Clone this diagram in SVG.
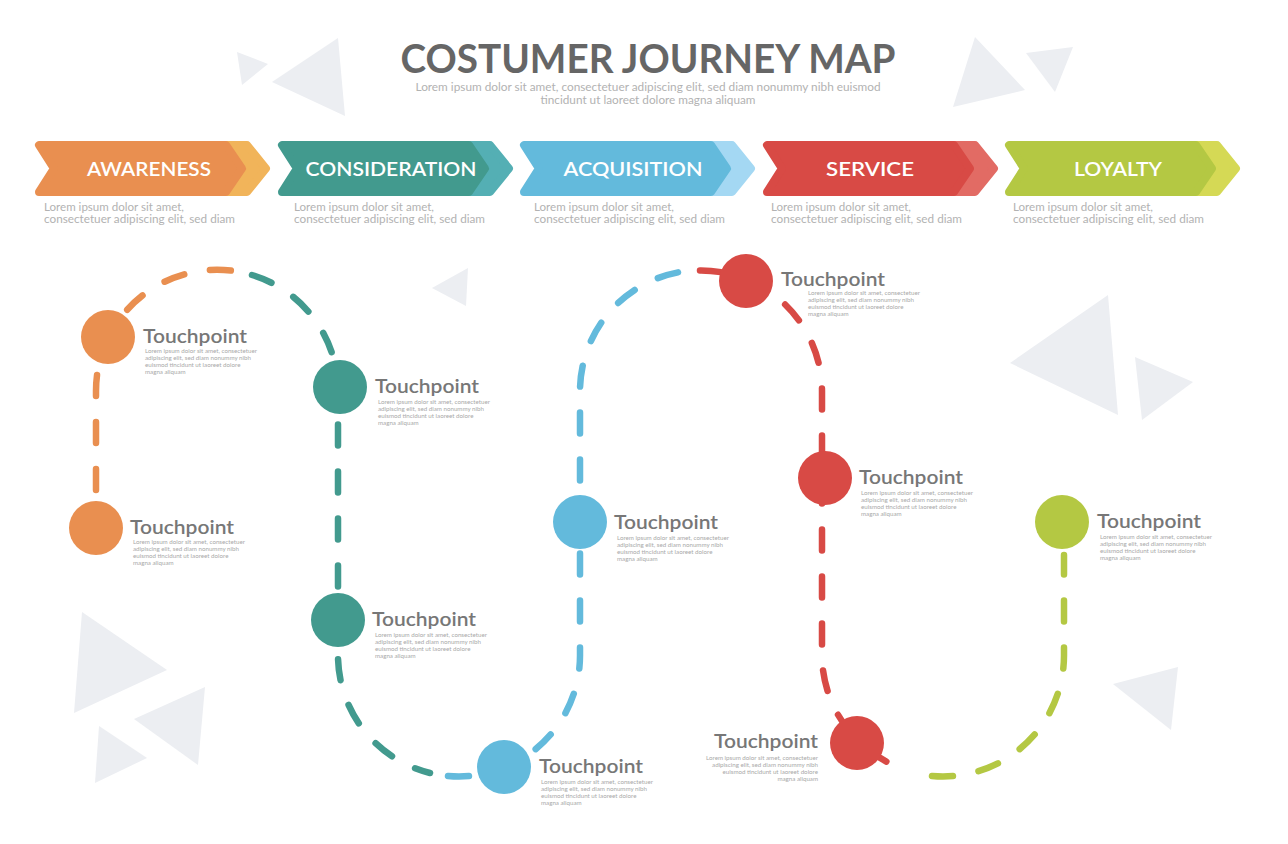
<svg xmlns="http://www.w3.org/2000/svg" width="1288" height="844" viewBox="0 0 1288 844">
<style>
.tri{fill:#ECEEF2}
.title{font-family:Lato,"Open Sans","Liberation Sans",sans-serif;font-weight:700;font-size:40px;fill:#666666}
.sub{font-family:Lato,"Liberation Sans",sans-serif;font-size:11px;fill:#B2B2B2}
.bl{font-family:Lato,"Liberation Sans",sans-serif;font-weight:600;font-size:20px;fill:#FFFFFF}
.bd{font-family:Lato,"Liberation Sans",sans-serif;font-size:11px;fill:#B2B2B2}
.th{font-family:Lato,"Liberation Sans",sans-serif;font-weight:600;font-size:19px;fill:#777777}
.td{font-family:Lato,"Liberation Sans",sans-serif;font-size:6.2px;fill:#A8A8A8}
.sh{stroke-linejoin:round;stroke-width:8}
.dash{fill:none;stroke-width:6.5;stroke-linecap:round;stroke-dasharray:21 26}
</style>
<rect width="1288" height="844" fill="#FFFFFF"/>
<g id="background">
<polygon class="tri" points="237,52 268,64 242,85"/>
<polygon class="tri" points="272,82 338,38 345,116"/>
<polygon class="tri" points="975,37 1025,90 953,107"/>
<polygon class="tri" points="1026,53 1073,47 1055,92"/>
<polygon class="tri" points="1108,295 1118,415 1010,363"/>
<polygon class="tri" points="1135,357 1193,382 1142,420"/>
<polygon class="tri" points="82,612 167,670 74,713"/>
<polygon class="tri" points="205,687 198,765 134,719"/>
<polygon class="tri" points="99,726 147,758 95,783"/>
<polygon class="tri" points="468,268 432,288 466,306"/>
<polygon class="tri" points="1178,667 1113,684 1171,730"/>
</g>
<g id="header">
<text class="title" x="648" y="73" text-anchor="middle" textLength="495" lengthAdjust="spacingAndGlyphs">COSTUMER JOURNEY MAP</text>
<text class="sub" x="648" y="91" text-anchor="middle" textLength="465" lengthAdjust="spacingAndGlyphs">Lorem ipsum dolor sit amet, consectetuer adipiscing elit, sed diam nonummy nibh euismod</text>
<text class="sub" x="648" y="104" text-anchor="middle" textLength="215" lengthAdjust="spacingAndGlyphs">tincidunt ut laoreet dolore magna aliquam</text>
</g>
<g id="stage-awareness">
<polygon class="sh" fill="#F1B45A" stroke="#F1B45A" points="204,145 247,145 266,168.5 247,192 204,192"/>
<polygon class="sh" fill="#E98F50" stroke="#E98F50" points="39,145 226,145 242,168.5 226,192 39,192 54,168.5"/>
<text class="bl" x="149" y="176" text-anchor="middle" textLength="124" lengthAdjust="spacingAndGlyphs">AWARENESS</text>
<text class="bd" x="44" y="211" textLength="140" lengthAdjust="spacingAndGlyphs">Lorem ipsum dolor sit amet,</text>
<text class="bd" x="44" y="223" textLength="191" lengthAdjust="spacingAndGlyphs">consectetuer adipiscing elit, sed diam</text>
</g>
<g id="stage-consideration">
<polygon class="sh" fill="#54AFB4" stroke="#54AFB4" points="447,145 490,145 509,168.5 490,192 447,192"/>
<polygon class="sh" fill="#429A8E" stroke="#429A8E" points="282,145 469,145 485,168.5 469,192 282,192 297,168.5"/>
<text class="bl" x="391" y="176" text-anchor="middle" textLength="171" lengthAdjust="spacingAndGlyphs">CONSIDERATION</text>
<text class="bd" x="294" y="211" textLength="140" lengthAdjust="spacingAndGlyphs">Lorem ipsum dolor sit amet,</text>
<text class="bd" x="294" y="223" textLength="191" lengthAdjust="spacingAndGlyphs">consectetuer adipiscing elit, sed diam</text>
</g>
<g id="stage-acquisition">
<polygon class="sh" fill="#A4D8F3" stroke="#A4D8F3" points="689,145 732,145 751,168.5 732,192 689,192"/>
<polygon class="sh" fill="#63BADC" stroke="#63BADC" points="524,145 711,145 727,168.5 711,192 524,192 539,168.5"/>
<text class="bl" x="633" y="176" text-anchor="middle" textLength="139" lengthAdjust="spacingAndGlyphs">ACQUISITION</text>
<text class="bd" x="534" y="211" textLength="140" lengthAdjust="spacingAndGlyphs">Lorem ipsum dolor sit amet,</text>
<text class="bd" x="534" y="223" textLength="191" lengthAdjust="spacingAndGlyphs">consectetuer adipiscing elit, sed diam</text>
</g>
<g id="stage-service">
<polygon class="sh" fill="#E26B64" stroke="#E26B64" points="932,145 975,145 994,168.5 975,192 932,192"/>
<polygon class="sh" fill="#D84A45" stroke="#D84A45" points="767,145 954,145 970,168.5 954,192 767,192 782,168.5"/>
<text class="bl" x="870" y="176" text-anchor="middle" textLength="88" lengthAdjust="spacingAndGlyphs">SERVICE</text>
<text class="bd" x="771" y="211" textLength="140" lengthAdjust="spacingAndGlyphs">Lorem ipsum dolor sit amet,</text>
<text class="bd" x="771" y="223" textLength="191" lengthAdjust="spacingAndGlyphs">consectetuer adipiscing elit, sed diam</text>
</g>
<g id="stage-loyalty">
<polygon class="sh" fill="#D5D955" stroke="#D5D955" points="1174,145 1217,145 1236,168.5 1217,192 1174,192"/>
<polygon class="sh" fill="#B4C843" stroke="#B4C843" points="1009,145 1196,145 1212,168.5 1196,192 1009,192 1024,168.5"/>
<text class="bl" x="1118" y="176" text-anchor="middle" textLength="88" lengthAdjust="spacingAndGlyphs">LOYALTY</text>
<text class="bd" x="1013" y="211" textLength="140" lengthAdjust="spacingAndGlyphs">Lorem ipsum dolor sit amet,</text>
<text class="bd" x="1013" y="223" textLength="191" lengthAdjust="spacingAndGlyphs">consectetuer adipiscing elit, sed diam</text>
</g>
<g id="connectors">
<path class="dash" stroke="#E98F50" d="M96 490 L96 391 A121 121 0 0 1 240 272"/>
<path class="dash" stroke="#429A8E" d="M252 275 A121 121 0 0 1 338 391 L338 655 A121 121 0 0 0 430 773"/>
<path class="dash" stroke="#63BADC" d="M448 776 A121 121 0 0 0 580 655 L580 391 A121 121 0 0 1 680 272"/>
<path class="dash" stroke="#D84A45" d="M700 270.5 A121 121 0 0 1 822 391 L822 655 A121 121 0 0 0 910 771"/>
<path class="dash" stroke="#B4C843" d="M932 776 A121 121 0 0 0 1064 655 L1064 555"/>
</g>
<g id="touchpoint-1">
<circle cx="108" cy="337" r="27" fill="#E98F50"/>
<text class="th" x="143" y="343" textLength="104" lengthAdjust="spacingAndGlyphs">Touchpoint</text>
<text class="td" x="145" y="353">Lorem ipsum dolor sit amet, consectetuer</text>
<text class="td" x="145" y="360">adipiscing elit, sed diam nonummy nibh</text>
<text class="td" x="145" y="367">euismod tincidunt ut laoreet dolore</text>
<text class="td" x="145" y="374">magna aliquam</text>
</g>
<g id="touchpoint-2">
<circle cx="96" cy="528" r="27" fill="#E98F50"/>
<text class="th" x="130" y="534" textLength="104" lengthAdjust="spacingAndGlyphs">Touchpoint</text>
<text class="td" x="133" y="544">Lorem ipsum dolor sit amet, consectetuer</text>
<text class="td" x="133" y="551">adipiscing elit, sed diam nonummy nibh</text>
<text class="td" x="133" y="558">euismod tincidunt ut laoreet dolore</text>
<text class="td" x="133" y="565">magna aliquam</text>
</g>
<g id="touchpoint-3">
<circle cx="340" cy="387" r="27" fill="#429A8E"/>
<text class="th" x="375" y="393" textLength="104" lengthAdjust="spacingAndGlyphs">Touchpoint</text>
<text class="td" x="378" y="404">Lorem ipsum dolor sit amet, consectetuer</text>
<text class="td" x="378" y="411">adipiscing elit, sed diam nonummy nibh</text>
<text class="td" x="378" y="418">euismod tincidunt ut laoreet dolore</text>
<text class="td" x="378" y="425">magna aliquam</text>
</g>
<g id="touchpoint-4">
<circle cx="338" cy="620" r="27" fill="#429A8E"/>
<text class="th" x="372" y="626" textLength="104" lengthAdjust="spacingAndGlyphs">Touchpoint</text>
<text class="td" x="375" y="637">Lorem ipsum dolor sit amet, consectetuer</text>
<text class="td" x="375" y="644">adipiscing elit, sed diam nonummy nibh</text>
<text class="td" x="375" y="651">euismod tincidunt ut laoreet dolore</text>
<text class="td" x="375" y="658">magna aliquam</text>
</g>
<g id="touchpoint-5">
<circle cx="504" cy="767" r="27" fill="#63BADC"/>
<text class="th" x="539" y="773" textLength="104" lengthAdjust="spacingAndGlyphs">Touchpoint</text>
<text class="td" x="541" y="784">Lorem ipsum dolor sit amet, consectetuer</text>
<text class="td" x="541" y="791">adipiscing elit, sed diam nonummy nibh</text>
<text class="td" x="541" y="798">euismod tincidunt ut laoreet dolore</text>
<text class="td" x="541" y="805">magna aliquam</text>
</g>
<g id="touchpoint-6">
<circle cx="580" cy="522" r="27" fill="#63BADC"/>
<text class="th" x="614" y="529" textLength="104" lengthAdjust="spacingAndGlyphs">Touchpoint</text>
<text class="td" x="617" y="540">Lorem ipsum dolor sit amet, consectetuer</text>
<text class="td" x="617" y="547">adipiscing elit, sed diam nonummy nibh</text>
<text class="td" x="617" y="554">euismod tincidunt ut laoreet dolore</text>
<text class="td" x="617" y="561">magna aliquam</text>
</g>
<g id="touchpoint-7">
<circle cx="746" cy="281" r="27" fill="#D84A45"/>
<text class="th" x="781" y="286" textLength="104" lengthAdjust="spacingAndGlyphs">Touchpoint</text>
<text class="td" x="808" y="295">Lorem ipsum dolor sit amet, consectetuer</text>
<text class="td" x="808" y="302">adipiscing elit, sed diam nonummy nibh</text>
<text class="td" x="808" y="309">euismod tincidunt ut laoreet dolore</text>
<text class="td" x="808" y="316">magna aliquam</text>
</g>
<g id="touchpoint-8">
<circle cx="825" cy="478" r="27" fill="#D84A45"/>
<text class="th" x="859" y="484" textLength="104" lengthAdjust="spacingAndGlyphs">Touchpoint</text>
<text class="td" x="861" y="495">Lorem ipsum dolor sit amet, consectetuer</text>
<text class="td" x="861" y="502">adipiscing elit, sed diam nonummy nibh</text>
<text class="td" x="861" y="509">euismod tincidunt ut laoreet dolore</text>
<text class="td" x="861" y="516">magna aliquam</text>
</g>
<g id="touchpoint-9">
<circle cx="857" cy="743" r="27" fill="#D84A45"/>
<text class="th" x="818" y="748" text-anchor="end" textLength="104" lengthAdjust="spacingAndGlyphs">Touchpoint</text>
<text class="td" x="818" y="760" text-anchor="end">Lorem ipsum dolor sit amet, consectetuer</text>
<text class="td" x="818" y="767" text-anchor="end">adipiscing elit, sed diam nonummy nibh</text>
<text class="td" x="818" y="774" text-anchor="end">euismod tincidunt ut laoreet dolore</text>
<text class="td" x="818" y="781" text-anchor="end">magna aliquam</text>
</g>
<g id="touchpoint-10">
<circle cx="1062" cy="522" r="27" fill="#B4C843"/>
<text class="th" x="1097" y="528" textLength="104" lengthAdjust="spacingAndGlyphs">Touchpoint</text>
<text class="td" x="1100" y="539">Lorem ipsum dolor sit amet, consectetuer</text>
<text class="td" x="1100" y="546">adipiscing elit, sed diam nonummy nibh</text>
<text class="td" x="1100" y="553">euismod tincidunt ut laoreet dolore</text>
<text class="td" x="1100" y="560">magna aliquam</text>
</g>
</svg>
